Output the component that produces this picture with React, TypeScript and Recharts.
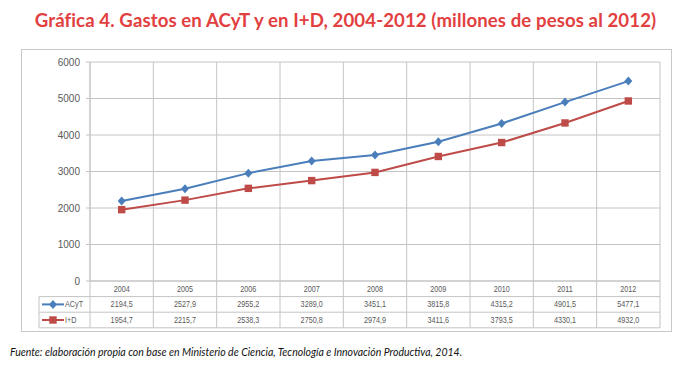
import React from 'react';
import { LineChart, Line, XAxis, YAxis, CartesianGrid } from 'recharts';

const categories = ['2004', '2005', '2006', '2007', '2008', '2009', '2010', '2011', '2012'];
const acytValues = [2194.5, 2527.9, 2955.2, 3289.0, 3451.1, 3815.8, 4315.2, 4901.5, 5477.1];
const idValues = [1954.7, 2215.7, 2538.3, 2750.8, 2974.9, 3411.6, 3793.5, 4330.1, 4932.0];
const yTicks = [0, 1000, 2000, 3000, 4000, 5000, 6000];
const seriesNames = ['ACyT', 'I+D'];

const data = categories.map((year, i) => ({ year, acyt: acytValues[i], id: idValues[i] }));

const W = 691;
const H = 378;
const PLOT_LEFT = 90;
const PLOT_TOP = 62;
const PLOT_RIGHT = 660;
const PLOT_BOTTOM = 281;
const PLOT_W = PLOT_RIGHT - PLOT_LEFT;
const YAXIS_W = 60;
const XAXIS_H = 47;
const ROW_H = 15.6;
const TABLE_LEFT = 39;

const BLUE = '#4a7ebb';
const RED = '#be4b48';
const GRID = '#c4c4c4';
const TEXT = '#5a5a5a';

const fmt = (v: number) => v.toFixed(1).replace('.', ',');

function CellText({ x, y, children, anchor = 'middle' }: any) {
  return (
    <text
      x={0}
      y={0}
      transform={`translate(${x},${y}) scale(0.84,1)`}
      textAnchor={anchor}
      fontSize={8.6}
      fontFamily="'Liberation Sans', Arial, sans-serif"
      fill={TEXT}
    >
      {children}
    </text>
  );
}

function Diamond({ cx, cy, color }: any) {
  return <path d={`M${cx},${cy - 4.5}L${cx + 4},${cy}L${cx},${cy + 4.5}L${cx - 4},${cy}Z`} fill={color} />;
}

function Square({ cx, cy, color }: any) {
  return <rect x={cx - 3.7} y={cy - 3.7} width={7.4} height={7.4} fill={color} />;
}

function TableTick(props: any) {
  const { x, y, payload } = props;
  const i = props.index ?? payload.index;
  const n = categories.length;
  const bw = PLOT_W / n;
  const l = x - bw / 2;
  const r = x + bw / 2;
  const rows = [payload.value, fmt(acytValues[i]), fmt(idValues[i])];
  return (
    <g>
      <line x1={l} x2={l} y1={y} y2={y + 3 * ROW_H} stroke={GRID} />
      {i === n - 1 && <line x1={r} x2={r} y1={y} y2={y + 3 * ROW_H} stroke={GRID} />}
      {[1, 2, 3].map((k) => (
        <line key={k} x1={l} x2={r} y1={y + k * ROW_H} y2={y + k * ROW_H} stroke={GRID} />
      ))}
      {rows.map((t, k) => (
        <CellText key={k} x={x} y={y + k * ROW_H + ROW_H / 2 + 3}>
          {t}
        </CellText>
      ))}
      {i === 0 && (
        <g>
          <line x1={TABLE_LEFT} x2={TABLE_LEFT} y1={y + ROW_H} y2={y + 3 * ROW_H} stroke={GRID} />
          {[1, 2, 3].map((k) => (
            <line key={k} x1={TABLE_LEFT} x2={l} y1={y + k * ROW_H} y2={y + k * ROW_H} stroke={GRID} />
          ))}
          {seriesNames.map((name, k) => {
            const cy = y + (k + 1) * ROW_H + ROW_H / 2;
            const color = k === 0 ? BLUE : RED;
            return (
              <g key={name}>
                <line x1={TABLE_LEFT + 3} x2={TABLE_LEFT + 25} y1={cy} y2={cy} stroke={color} strokeWidth={2} />
                {k === 0 ? (
                  <Diamond cx={TABLE_LEFT + 14} cy={cy} color={color} />
                ) : (
                  <Square cx={TABLE_LEFT + 14} cy={cy} color={color} />
                )}
                <CellText x={TABLE_LEFT + 26} y={cy + 3} anchor="start">
                  {name}
                </CellText>
              </g>
            );
          })}
        </g>
      )}
    </g>
  );
}

export default function App() {
  return (
    <div style={{ position: 'absolute', left: 0, top: 0, width: W, height: H, background: '#fff', overflow: 'hidden' }}>
      <div
        style={{
          position: 'absolute',
          left: 0,
          top: 8,
          width: W,
          textAlign: 'center',
          fontFamily: 'Lato, sans-serif',
          fontWeight: 700,
          fontSize: 18.6,
          lineHeight: '24px',
          color: '#e2403f',
          letterSpacing: 0.1,
        }}
      >
        Gráfica 4. Gastos en ACyT y en I+D, 2004-2012 (millones de pesos al 2012)
      </div>
      <div
        style={{
          position: 'absolute',
          left: 21,
          top: 49,
          width: 651,
          height: 283,
          boxSizing: 'border-box',
          border: '1px solid #c8c8c8',
        }}
      />
      <div style={{ position: 'absolute', left: 0, top: 0 }}>
        <LineChart
          width={W}
          height={H}
          data={data}
          margin={{ top: PLOT_TOP, left: PLOT_LEFT - YAXIS_W, right: W - PLOT_RIGHT, bottom: H - PLOT_BOTTOM - XAXIS_H }}
        >
          <CartesianGrid
            stroke={GRID}
            verticalCoordinatesGenerator={({ offset }: any) =>
              categories.map((_, i) => offset.left + (i * offset.width) / categories.length).concat([offset.left + offset.width])
            }
          />
          <XAxis
            dataKey="year"
            scale="band"
            height={XAXIS_H}
            interval={0}
            tickLine={false}
            tickSize={0}
            tickMargin={0}
            axisLine={{ stroke: GRID }}
            tick={<TableTick />}
          />
          <YAxis
            width={YAXIS_W}
            domain={[0, 6000]}
            ticks={yTicks}
            interval={0}
            tickSize={4}
            tickMargin={6}
            axisLine={{ stroke: GRID }}
            tickLine={{ stroke: GRID }}
            tick={{ fontSize: 10, fill: TEXT, fontFamily: "'Liberation Sans', Arial, sans-serif" }}
          />
          <Line
            dataKey="acyt"
            name={seriesNames[0]}
            stroke={BLUE}
            strokeWidth={2}
            isAnimationActive={false}
            dot={(p: any) => <Diamond key={`a${p.index}`} cx={p.cx} cy={p.cy} color={BLUE} />}
          />
          <Line
            dataKey="id"
            name={seriesNames[1]}
            stroke={RED}
            strokeWidth={2}
            isAnimationActive={false}
            dot={(p: any) => <Square key={`b${p.index}`} cx={p.cx} cy={p.cy} color={RED} />}
          />
        </LineChart>
      </div>
      <div
        style={{
          position: 'absolute',
          left: 10,
          top: 345,
          whiteSpace: 'nowrap',
          fontFamily: 'Lato, sans-serif',
          fontStyle: 'italic',
          fontSize: 10.5,
          lineHeight: '14px',
          color: '#111',
        }}
      >
        Fuente: elaboración propia con base en Ministerio de Ciencia, Tecnología e Innovación Productiva, 2014.
      </div>
    </div>
  );
}
